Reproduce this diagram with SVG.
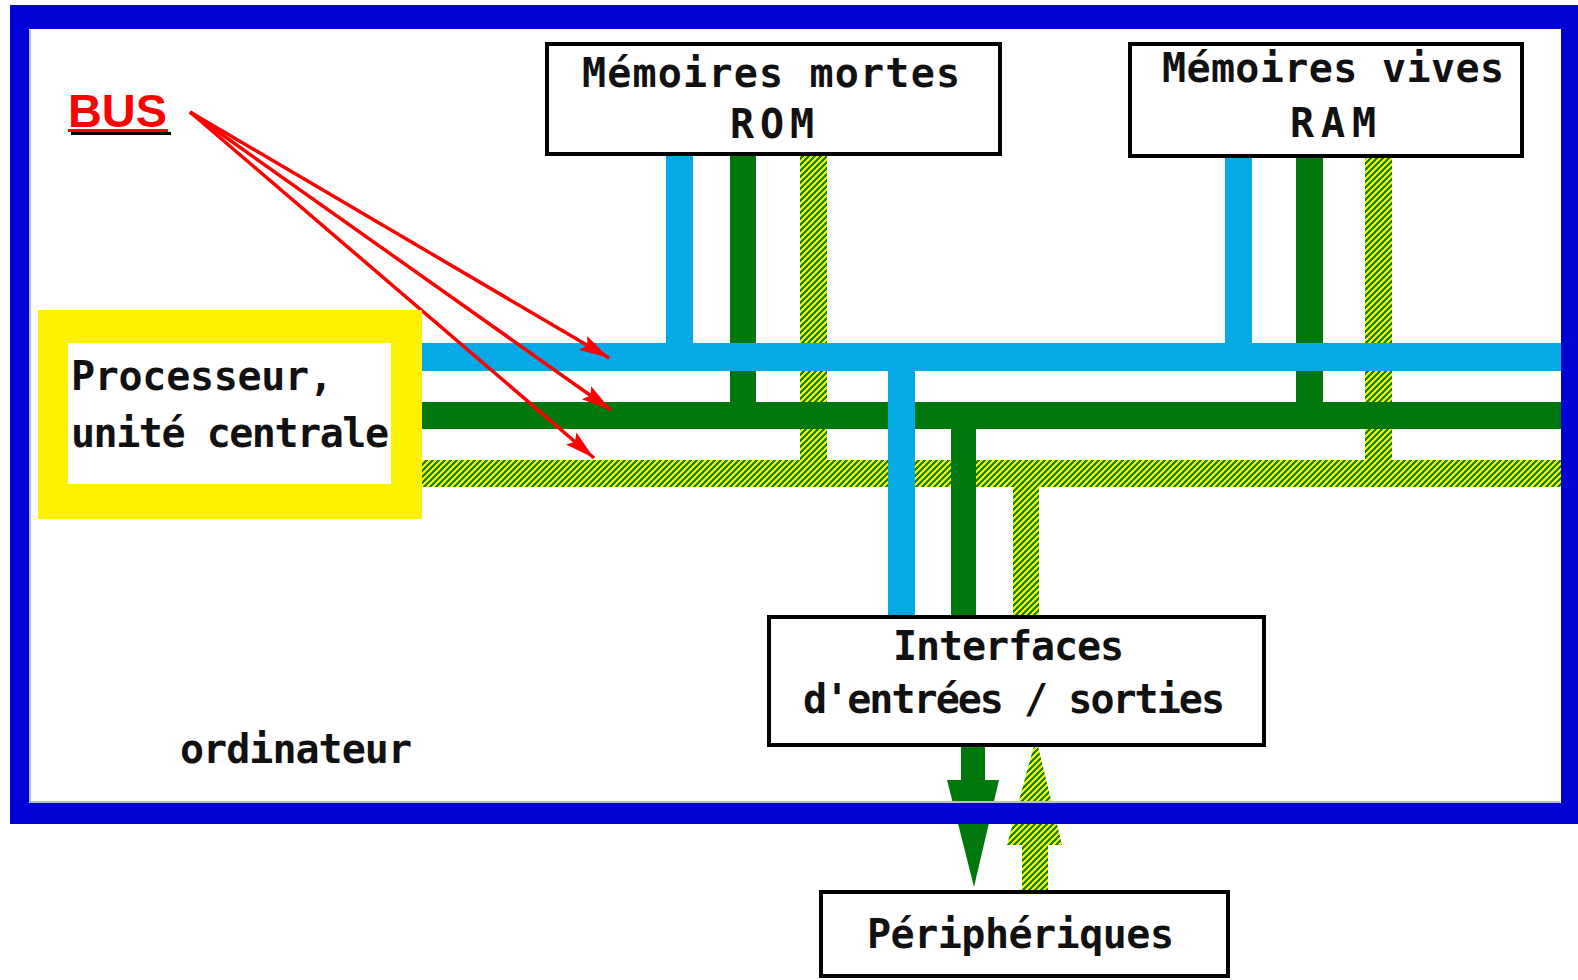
<svg xmlns="http://www.w3.org/2000/svg" width="1578" height="980" viewBox="0 0 1578 980">
  <defs>
    <style>
      .lbl { font-family: "DejaVu Sans Mono", "Liberation Mono", monospace; font-weight: bold; font-size: 40px; fill: #111; }
      .box { fill: #fff; stroke: #000; stroke-width: 4; }
      .addr { fill: #04a9e6; }
      .data { fill: #00780e; }
      .ctrl { fill: url(#hatch); }
      .ptr { stroke: #ff0000; stroke-width: 3.5; fill: none; marker-end: url(#redHead); }
    </style>
    <!-- yellow / green diagonal hatch used for the control bus -->
    <pattern id="hatch" width="6" height="6" patternUnits="userSpaceOnUse">
      <rect width="6" height="6" fill="#f4f000"/>
      <path d="M3,0h3v1h-3z M2,1h3v1h-3z M1,2h3v1h-3z M0,3h3v1h-3z M0,4h2v1h-2z M5,4h1v1h-1z M0,5h1v1h-1z M4,5h2v1h-2z" fill="#128412"/>
    </pattern>
    <marker id="redHead" markerUnits="userSpaceOnUse" markerWidth="32" markerHeight="20" refX="30" refY="10" orient="auto">
      <path d="M0,2 L30,10 L0,18 L5,10 Z" fill="#ff0000"/>
    </marker>
  </defs>

  <rect width="1578" height="980" fill="#fff"/>

  <!-- I/O arrows between interfaces and peripherals -->
  <g id="io-arrows">
    <rect x="961" y="745" width="24" height="37" class="data"/>
    <polygon points="947,780 999,780 974,887" class="data"/>
    <rect x="1022" y="843" width="26" height="47" class="ctrl"/>
    <polygon points="1007,845 1062,845 1036,738" class="ctrl"/>
  </g>

  <!-- computer enclosure -->
  <g id="ordinateur">
    <path d="M10,5 H1578 V824 H10 Z M29,29 V803 H1561 V29 Z" fill="#0202d4" fill-rule="evenodd"/>
    <path d="M30,30 V802 H1560" fill="none" stroke="#b8b8f0" stroke-width="2"/>
    <text class="lbl" x="180" y="763" textLength="232" lengthAdjust="spacing">ordinateur</text>
  </g>

  <g id="connectors">
    <!-- memory taps (under the horizontal buses) -->
    <rect x="666" y="154" width="27" height="192" class="addr"/>
    <rect x="730" y="154" width="26" height="252" class="data"/>
    <rect x="800" y="154" width="27" height="310" class="ctrl"/>
    <rect x="1225" y="156" width="27" height="190" class="addr"/>
    <rect x="1296" y="156" width="27" height="250" class="data"/>
    <rect x="1365" y="156" width="27" height="308" class="ctrl"/>

    <!-- horizontal buses -->
    <rect x="421" y="460" width="1140" height="27" class="ctrl"/>
    <rect x="421" y="402" width="1140" height="27" class="data"/>
    <rect x="421" y="343" width="1140" height="28" class="addr"/>

    <!-- interface taps (over the horizontal buses) -->
    <rect x="888" y="368" width="27" height="251" class="addr"/>
    <rect x="951" y="427" width="25" height="192" class="data"/>
    <rect x="1013" y="485" width="26" height="134" class="ctrl"/>
  </g>

  <g id="bus-label">
    <text x="68" y="127" font-family="Liberation Sans, Arial, sans-serif" font-weight="bold" font-size="47" fill="#ff0000" textLength="99" lengthAdjust="spacingAndGlyphs">BUS</text>
    <rect x="71" y="132" width="100" height="3" fill="#000"/>
    <rect x="68" y="129" width="100" height="3" fill="#ff0000"/>
    <line class="ptr" x1="190" y1="112" x2="609" y2="358"/>
    <line class="ptr" x1="190" y1="112" x2="611" y2="410"/>
    <line class="ptr" x1="190" y1="112" x2="594" y2="458"/>
  </g>

  <g id="processeur">
    <rect x="38" y="310" width="384" height="209" fill="#fcf200"/>
    <rect x="68" y="343" width="323" height="141" fill="#fff"/>
    <text class="lbl" x="71" y="390" textLength="262" lengthAdjust="spacing">Processeur,</text>
    <text class="lbl" x="71" y="447" textLength="318" lengthAdjust="spacing">unité centrale</text>
  </g>

  <g id="rom">
    <rect x="547" y="44" width="453" height="110" class="box"/>
    <text class="lbl" x="582" y="87" textLength="378" lengthAdjust="spacing">Mémoires mortes</text>
    <text class="lbl" x="730" y="138" textLength="84" lengthAdjust="spacing">ROM</text>
  </g>

  <g id="ram">
    <rect x="1130" y="44" width="392" height="112" class="box"/>
    <text class="lbl" x="1162" y="82" textLength="342" lengthAdjust="spacing">Mémoires vives</text>
    <text class="lbl" x="1290" y="137" textLength="86" lengthAdjust="spacing">RAM</text>
  </g>

  <g id="interfaces">
    <rect x="769" y="617" width="495" height="128" class="box"/>
    <text class="lbl" x="893" y="660" textLength="231" lengthAdjust="spacing">Interfaces</text>
    <text class="lbl" x="803" y="713" textLength="422" lengthAdjust="spacing">d'entrées / sorties</text>
  </g>

  <g id="peripheriques">
    <rect x="821" y="892" width="407" height="84" class="box"/>
    <text class="lbl" x="867" y="948" textLength="307" lengthAdjust="spacing">Périphériques</text>
  </g>
</svg>
